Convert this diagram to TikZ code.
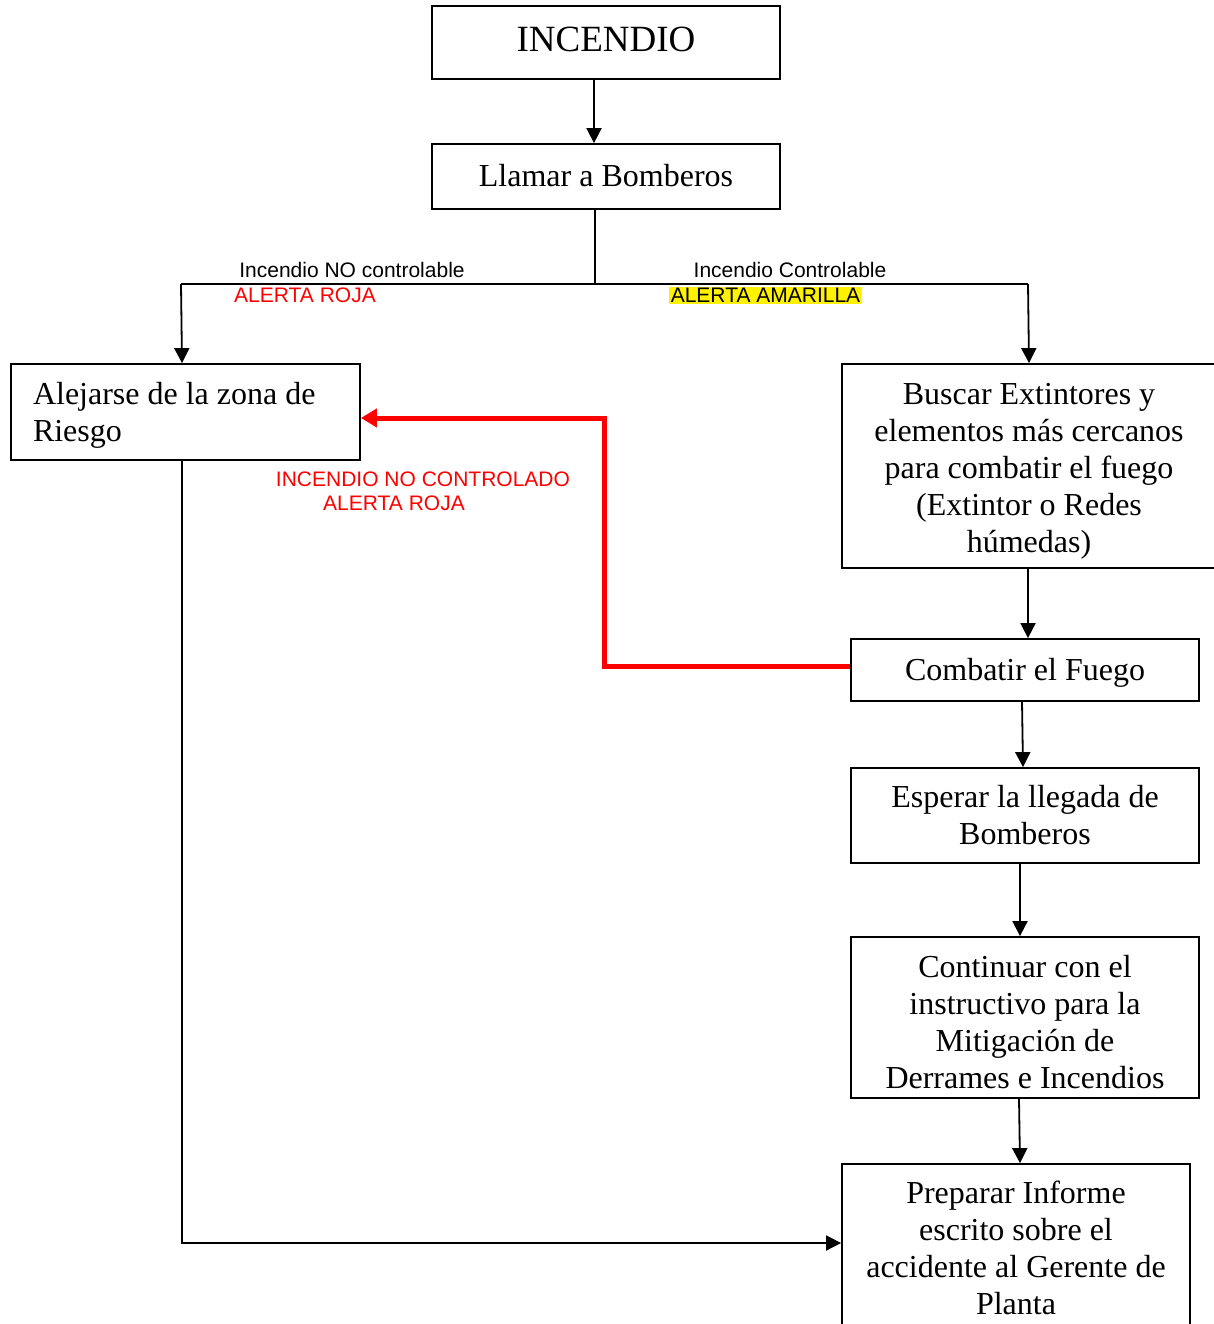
\documentclass[tikz,border=0pt]{standalone}
\usepackage{fontspec}
\setmainfont{Liberation Serif}
\newfontfamily\arialf{Liberation Sans}
\usetikzlibrary{arrows.meta}
\newcommand\mytopstrut[1]{\rule{0pt}{#1}}
\begin{document}
\begin{tikzpicture}[x=1pt,y=1pt,
  box/.style={draw=black, line width=1.8pt, inner sep=0pt, align=center,
    font=\fontsize{32}{37}\selectfont},
  arr/.style={line width=1.8pt, -{Triangle[length=15pt,width=15pt]}},
  plain/.style={line width=1.8pt},
  redarr/.style={draw=red, line width=5pt, -{Triangle[length=16pt,width=18pt]}},
  lbl/.style={font=\arialf\fontsize{21}{24}\selectfont, inner sep=0pt},
]
\useasboundingbox (0,0) rectangle (1214,-1324);
\clip (0,0) rectangle (1214,-1324);
\fill[white] (0,0) rectangle (1214,-1324);

% boxes
\node[box, minimum width=348, minimum height=73, font=\fontsize{37}{42}\selectfont] (inc) at (606,-42.5) {INCENDIO\rule[-6pt]{0pt}{6pt}};
\node[box, minimum width=348, minimum height=65] (llamar) at (606,-176.5) {Llamar a Bomberos\rule[-3pt]{0pt}{3pt}};
\node[box, minimum height=96, text width=305, inner xsep=22, align=flush left] (alej) at (185.5,-412) {\mytopstrut{28pt}Alejarse de la zona de\\Riesgo};
\node[box, minimum width=374, minimum height=204] (buscar) at (1029,-466) {\mytopstrut{31.5pt}Buscar Extintores y\\elementos más cercanos\\para combatir el fuego\\(Extintor o Redes\\húmedas)};
\node[box, minimum width=348, minimum height=62] (comb) at (1025,-670) {\mytopstrut{28pt}Combatir el Fuego};
\node[box, minimum width=348, minimum height=95] (esp) at (1025,-815.5) {Esperar la llegada de\\Bomberos};
\node[box, minimum width=348, minimum height=161] (cont) at (1025,-1017.5) {\mytopstrut{32pt}Continuar con el\\instructivo para la\\Mitigación de\\Derrames e Incendios};
\node[box, minimum width=348, minimum height=168] (prep) at (1016,-1248) {Preparar Informe\\escrito sobre el\\accidente al Gerente de\\Planta};

% labels
\node[lbl] (l1) at (352,-270) {Incendio NO controlable};
\node[lbl, text=red] (l2) at (305,-295) {ALERTA ROJA};
\node[lbl] (l3) at (790,-270) {Incendio Controlable};
\node[lbl, fill=yellow, inner xsep=1.5pt, inner ysep=1pt] (l4) at (765.5,-295.5) {ALERTA AMARILLA};
\node[lbl, text=red, align=center] (l5) at (423,-491) {INCENDIO NO CONTROLADO\\\hspace*{-58pt}ALERTA ROJA};

% connectors
\coordinate (jl) at (181,-284);
\coordinate (jr) at (1028,-284);
\draw[arr] ([xshift=-12]inc.south) -- ([xshift=-12]llamar.north);
\draw[plain] ([xshift=-11]llamar.south) -- ([xshift=-11]llamar.south |- jl);
\draw[plain] (jl) -- (jr);
\draw[arr] (jl) -- ([xshift=-3.5]alej.north);
\draw[arr] (jr) -- (buscar.north);
\draw[arr] ([xshift=-1]buscar.south) -- ([xshift=3]comb.north);
\draw[arr] ([xshift=-3]comb.south) -- ([xshift=-2]esp.north);
\draw[arr] ([xshift=-5]esp.south) -- ([xshift=-5]cont.north);
\draw[arr] ([xshift=-6]cont.south) -- ([xshift=4]prep.north);
\draw[redarr] ([yshift=4]comb.west) -- ++(-246,0) |- ([yshift=-6]alej.east);
\draw[arr] ([xshift=-3.5]alej.south) |- ([yshift=5]prep.west);
\end{tikzpicture}
\end{document}
